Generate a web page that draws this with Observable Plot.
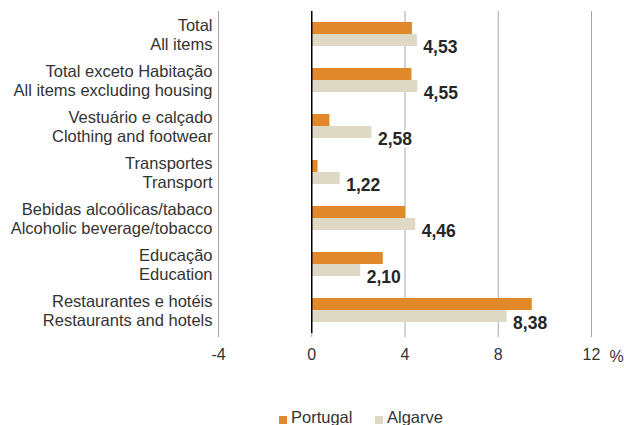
<!DOCTYPE html>
<html>
<head>
<meta charset="utf-8">
<script src="https://cdn.jsdelivr.net/npm/d3@7"></script>
<script src="https://cdn.jsdelivr.net/npm/@observablehq/plot@0.6"></script>
<style>
  body { margin: 0; background: white; }
  #chart svg { display: block; }
  .legend { position: relative; height: 20px; font: 16.5px "Liberation Sans", Arial, sans-serif; color: #333; line-height: 20px; white-space: nowrap; }
  .legend .item { position: absolute; top: 0; }
  .legend .sw { display: inline-block; width: 8px; height: 8px; margin-right: 4px; vertical-align: -1px; }
</style>
</head>
<body>
<div id="chart"></div>
<script>
const categories = [
  "Total\nAll items",
  "Total exceto Habitação\nAll items excluding housing",
  "Vestuário e calçado\nClothing and footwear",
  "Transportes\nTransport",
  "Bebidas alcoólicas/tabaco\nAlcoholic beverage/tobacco",
  "Educação\nEducation",
  "Restaurantes e hotéis\nRestaurants and hotels"
];
const series = ["Portugal", "Algarve"];
const portugal = [4.32, 4.30, 0.78, 0.27, 4.03, 3.07, 9.46];
const algarve  = [4.53, 4.55, 2.58, 1.22, 4.46, 2.10, 8.38];
const xTicks = [-4, 0, 4, 8, 12];
const colors = ["#E0882A", "#DDD9C4"];

const data = [];
categories.forEach((c, i) => {
  data.push({cat: c, series: "Portugal", value: portugal[i]});
  data.push({cat: c, series: "Algarve", value: algarve[i]});
});
const algData = data.filter(d => d.series === "Algarve");

const fmt = v => v.toFixed(2).replace(".", ",");

const chart = Plot.plot({
  width: 624,
  height: 407,
  marginLeft: 218,
  marginRight: 33,
  marginTop: 11,
  marginBottom: 74,
  style: {fontFamily: "'Liberation Sans', Arial, sans-serif", fontSize: "16px", color: "#333", background: "white"},
  x: {domain: [-4, 12], ticks: xTicks, label: null},
  y: {domain: series, axis: null, paddingInner: 0, paddingOuter: 0.77},
  fy: {domain: categories, padding: 0, label: null, axis: null},
  color: {domain: series, range: colors},
  marks: [
    Plot.gridX(xTicks.filter(d => d !== 0), {stroke: "#a6a6a6", strokeOpacity: 1}),
    Plot.barX(data, {fy: "cat", y: "series", x: "value", fill: "series"}),
    Plot.ruleX([0], {stroke: "#000", strokeWidth: 1.5}),
    Plot.axisFy({anchor: "left", tickSize: 0, tickPadding: 6, fontSize: 16.5, lineHeight: 1.15, label: null, fill: "#333"}),
    Plot.axisX(xTicks, {tickSize: 4, tickPadding: 11, fontSize: 16, stroke: "#a6a6a6", fill: "#333", label: null, tickFormat: d => String(d)}),
    Plot.text(algData, {
      fy: "cat", y: "series", x: "value", text: d => fmt(d.value),
      textAnchor: "start", dx: 6, dy: 7, fontWeight: "bold", fontSize: 17.5,
      fill: "#262626", stroke: "white", strokeWidth: 5
    }),
    Plot.text(["%"], {fy: () => categories[categories.length - 1], frameAnchor: "bottom-right", textAnchor: "middle", lineAnchor: "middle", dx: 25, dy: 23, fontSize: 16, fill: "#333"})
  ]
});
document.getElementById("chart").appendChild(chart);

const legend = document.createElement("div");
legend.className = "legend";
const positions = [279, 375];
series.forEach((s, i) => {
  const item = document.createElement("span");
  item.className = "item";
  item.style.left = positions[i] + "px";
  const sw = document.createElement("span");
  sw.className = "sw";
  sw.style.background = colors[i];
  item.appendChild(sw);
  item.appendChild(document.createTextNode(s));
  legend.appendChild(item);
});
document.body.appendChild(legend);
</script>
</body>
</html>
